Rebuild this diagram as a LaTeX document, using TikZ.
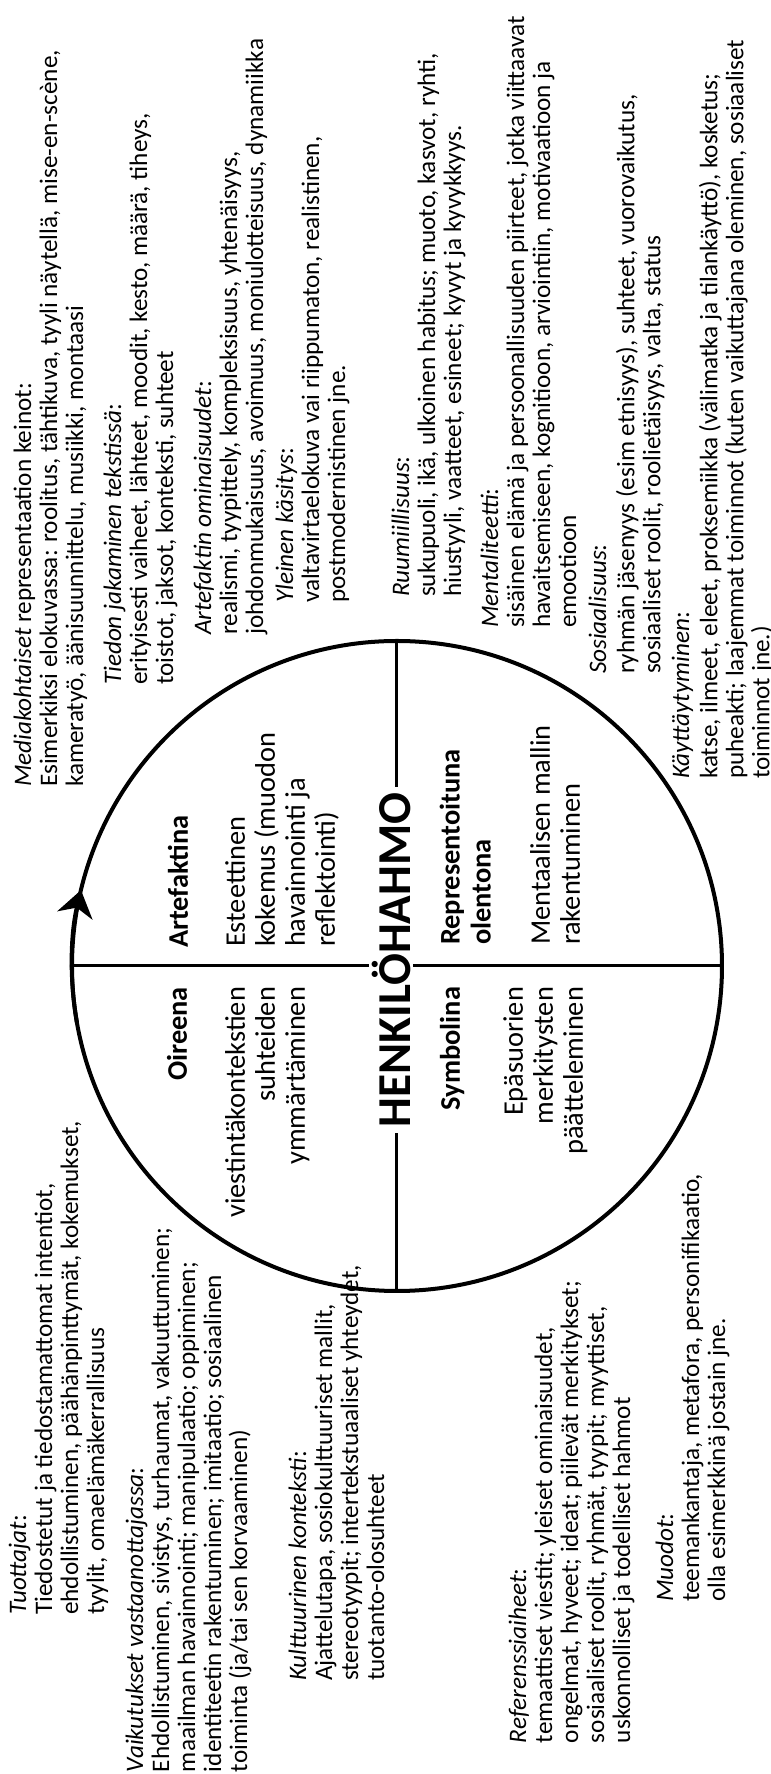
\documentclass[tikz,border=0pt]{standalone}
\usepackage{fontspec}
\setmainfont{Carlito}
\usetikzlibrary{arrows.meta}

\begin{document}
\begin{tikzpicture}[x=0.5pt, y=0.5pt, rotate=90, transform shape,
    every node/.style={inner sep=0pt, outer sep=0pt},
    info/.style={anchor=north west, align=left, font=\fontsize{12.6}{13}\selectfont},
    quadtext/.style={align=left, font=\fontsize{14.2}{15}\selectfont},
    quadlabel/.style={align=left, font=\bfseries\fontsize{14.2}{15.5}\selectfont},
    divider/.style={line width=1.5pt}]

    \path[use as bounding box, fill=white] (0,0) rectangle (1774,771);

    % circle and cross
    \node[circle, draw, line width=2pt, minimum size=325pt] (c) at (808,374) {};
    \node[font=\bfseries\fontsize{23.6}{24}\selectfont, inner xsep=3pt, inner ysep=1.5pt] (hahmo) at (814,380) {HENKILÖHAHMO};

    \draw[divider] (c.west) -- (c.west -| hahmo.west);
    \draw[divider] (c.east -| hahmo.east) -- (c.east);
    \draw[divider] (c.north) -- (c.north |- hahmo.north);
    \draw[divider] (c.south |- hahmo.south) -- (c.south);

    % direction of reading
    \draw[line width=2pt, -{Stealth[length=13pt, width=18pt, inset=4pt]}] (c.100) arc[start angle=100, end angle=76.5, radius=162.5pt];

    % quadrants
    \node[quadlabel, anchor=base west] (artlab) at (826,583) {Artefaktina};
    \node[quadtext, anchor=north west] (arttxt) at (827,547) {\strut Esteettinen\\kokemus (muodon\\havainnointi ja\\reflektointi)};
    \node[quadlabel, anchor=base east] (oirlab) at (787,584) {Oireena};
    \node[quadtext, anchor=north east, align=right] (oirtxt) at (787,547) {\strut viestintäkontekstien\\suhteiden\\ymmärtäminen};
    \node[quadlabel, anchor=base east] (symlab) at (787,311) {Symbolina};
    \node[quadtext, anchor=north east, align=right] (symtxt) at (787,269) {\strut Epäsuorien\\merkitysten\\päätteleminen};
    \node[quadlabel, anchor=north west] (replab) at (829,333) {\strut Representoituna\\olentona};
    \node[quadtext, anchor=north west] (reptxt) at (829,242) {\strut Mentaalisen mallin\\rakentuminen};

    % texts on the right
    \node[info] (media) at (987,758) {\strut\textit{Mediakohtaiset} representaation keinot:\\Esimerkiksi elokuvassa: roolitus, tähtikuva, tyyli näytellä, mise-en-scène,\\kameratyö, äänisuunnittelu, musiikki, montaasi};
    \node[info] (tieto) at (1089,668) {\strut\textit{Tiedon jakaminen tekstissä}:\\erityisesti vaiheet, lähteet, moodit, kesto, määrä, tiheys,\\toistot, jaksot, konteksti, suhteet};
    \node[info] (arte) at (1139,578) {\strut\textit{Artefaktin ominaisuudet}:\\realismi, tyypittely, kompleksisuus, yhtenäisyys,\\johdonmukaisuus, avoimuus, moniulotteisuus, dynamiikka};
    \node[info] (yleinen) at (1171,496) {\strut\textit{Yleinen käsitys}:\\valtavirtaelokuva vai riippumaton, realistinen,\\postmodernistinen jne.};
    \node[info] (ruumis) at (1177,380) {\strut\textit{Ruumiillisuus}:\\sukupuoli, ikä, ulkoinen habitus; muoto, kasvot, ryhti,\\hiustyyli, vaatteet, esineet; kyvyt ja kyvykkyys.};
    \node[info] (mentali) at (1146,291) {\strut\textit{Mentaliteetti}:\\sisäinen elämä ja persoonallisuuden piirteet, jotka viittaavat\\havaitsemiseen, kognitioon, arviointiin, motivaatioon ja\\emootioon};
    \node[info] (sosiaali) at (1100,183) {\strut\textit{Sosiaalisuus}:\\ryhmän jäsenyys (esim etnisyys), suhteet, vuorovaikutus,\\sosiaaliset roolit, roolietäisyys, valta, status};
    \node[info] (kaytos) at (995,100) {\strut\textit{Käyttäytyminen}:\\katse, ilmeet, eleet, proksemiikka (välimatka ja tilankäyttö), kosketus;\\puheakti; laajemmat toiminnot (kuten vaikuttajana oleminen, sosiaaliset\\toiminnot jne.)};

    % texts on the left
    \node[info] (tuottajat) at (159,763) {\strut\textit{Tuottajat}:\\Tiedostetut ja tiedostamattomat intentiot,\\ehdollistuminen, päähänpinttymät, kokemukset,\\tyylit, omaelämäkerrallisuus};
    \node[info] (vaikutus) at (2,646) {\strut\textit{Vaikutukset vastaanottajassa}:\\Ehdollistuminen, sivistys, turhaumat, vakuuttuminen;\\maailman havainnointi; manipulaatio; oppiminen;\\identiteetin rakentuminen; imitaatio; sosiaalinen\\toiminta (ja/tai sen korvaaminen)};
    \node[info] (kulttuuri) at (93,483) {\strut\textit{Kulttuurinen konteksti}:\\Ajattelutapa, sosiokulttuuriset mallit,\\stereotyypit; intertekstuaaliset yhteydet,\\tuotanto-olosuhteet};
    \node[info] (referens) at (31,263) {\strut\textit{Referenssiaiheet}:\\temaattiset viestit; yleiset ominaisuudet,\\ongelmat, hyveet; ideat; piilevät merkitykset;\\sosiaaliset roolit, ryhmät, tyypit; myyttiset,\\uskonnolliset ja todelliset hahmot};
    \node[info] (muodot) at (172,116) {\strut\textit{Muodot}:\\teemankantaja, metafora, personifikaatio,\\olla esimerkkinä jostain jne.};

\end{tikzpicture}
\end{document}
